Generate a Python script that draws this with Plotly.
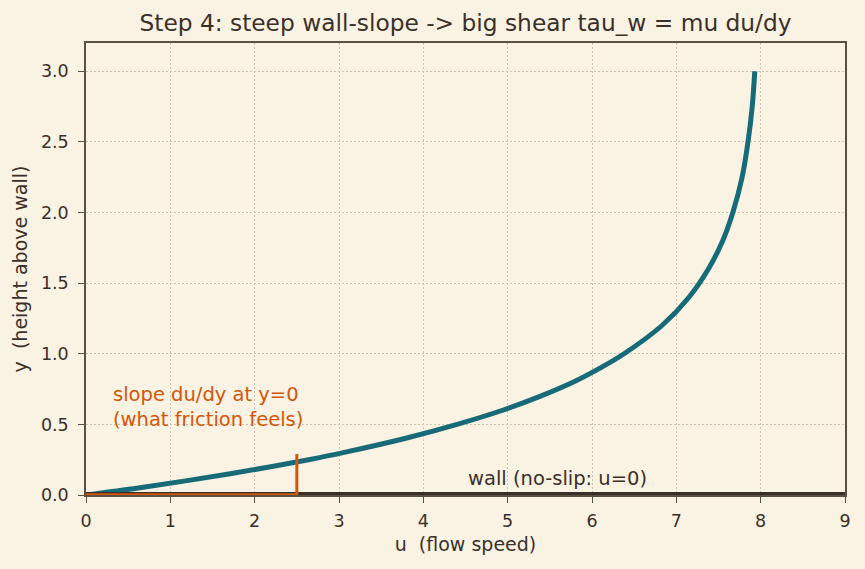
import plotly.graph_objects as go

# velocity profile
y_prof = [0.0, 0.05, 0.1, 0.15, 0.2, 0.25, 0.3, 0.4, 0.5, 0.6, 0.7, 0.8, 0.9, 1.0,
          1.2, 1.4, 1.6, 1.8, 2.0, 2.25, 2.5, 2.75, 3.0]
u_prof = [0.0, 0.62, 1.18, 1.71, 2.19, 2.64, 3.05, 3.78, 4.40, 4.94, 5.39, 5.78, 6.10, 6.38,
          6.83, 7.15, 7.38, 7.55, 7.67, 7.78, 7.85, 7.90, 7.93]

wall_u = [0, 9]
wall_y = [0, 0]

slope_h_u = [0, 2.5]
slope_h_y = [0.006, 0.006]
slope_v_u = [2.5, 2.5]
slope_v_y = [0, 0.29]

x_ticks = [0, 1, 2, 3, 4, 5, 6, 7, 8, 9]
y_ticks = [0.0, 0.5, 1.0, 1.5, 2.0, 2.5, 3.0]
y_tick_text = ["0.0", "0.5", "1.0", "1.5", "2.0", "2.5", "3.0"]

BG = "#faf3e3"
INK = "#3a3029"
FRAME = "#5c5042"
TEAL = "#176b78"
ORANGE = "#d4560a"
GRID = "#cbc2b2"
FONT = "DejaVu Sans"

fig = go.Figure()
fig.add_trace(go.Scatter(x=u_prof, y=y_prof, mode="lines", line=dict(color=TEAL, width=5, shape="spline"),
                         hoverinfo="skip"))
fig.add_trace(go.Scatter(x=wall_u, y=wall_y, mode="lines", line=dict(color=INK, width=6), hoverinfo="skip"))
fig.add_trace(go.Scatter(x=slope_h_u, y=slope_h_y, mode="lines", line=dict(color=ORANGE, width=2),
                         hoverinfo="skip"))
fig.add_trace(go.Scatter(x=slope_v_u, y=slope_v_y, mode="lines", line=dict(color=ORANGE, width=3),
                         hoverinfo="skip"))

fig.add_annotation(x=0.3, y=0.44, xref="x", yref="y", text="slope du/dy at y=0<br>(what friction feels)",
                   showarrow=False, xanchor="left", yanchor="bottom", align="left",
                   font=dict(family=FONT, size=19.5, color=ORANGE))
fig.add_annotation(x=4.5, y=0.02, xref="x", yref="y", text="wall (no-slip: u=0)",
                   showarrow=False, xanchor="left", yanchor="bottom", align="left",
                   font=dict(family=FONT, size=19.5, color=INK))

axis_common = dict(showline=True, linecolor=FRAME, linewidth=1.5, mirror=True,
                   ticks="outside", ticklen=6, tickwidth=1.2, tickcolor=FRAME,
                   showgrid=True, gridcolor=GRID, griddash="2px,2px", gridwidth=1,
                   zeroline=False, tickfont=dict(family=FONT, size=17.5, color=INK))

fig.update_xaxes(range=[0, 9], tickvals=x_ticks, ticklabelstandoff=3,
                 title=dict(text="u\u00a0 (flow speed)", standoff=8,
                            font=dict(family=FONT, size=19, color=INK)), **axis_common)
fig.update_yaxes(range=[0, 3.2], tickvals=y_ticks, ticktext=y_tick_text, ticklabelstandoff=6,
                 title=dict(text="y\u00a0 (height above wall)", standoff=8,
                            font=dict(family=FONT, size=19, color=INK)),
                 **axis_common)

fig.update_layout(
    width=865, height=569,
    margin=dict(l=86, r=20, t=43, b=74),
    paper_bgcolor=BG, plot_bgcolor=BG,
    showlegend=False,
    title=dict(text="Step 4: steep wall-slope -> big shear tau_w = mu du/dy", x=0.5, xref="paper",
               xanchor="center", y=0.96, yanchor="middle", font=dict(family=FONT, size=23.3, color=INK)),
)

fig.write_html("out.html")
